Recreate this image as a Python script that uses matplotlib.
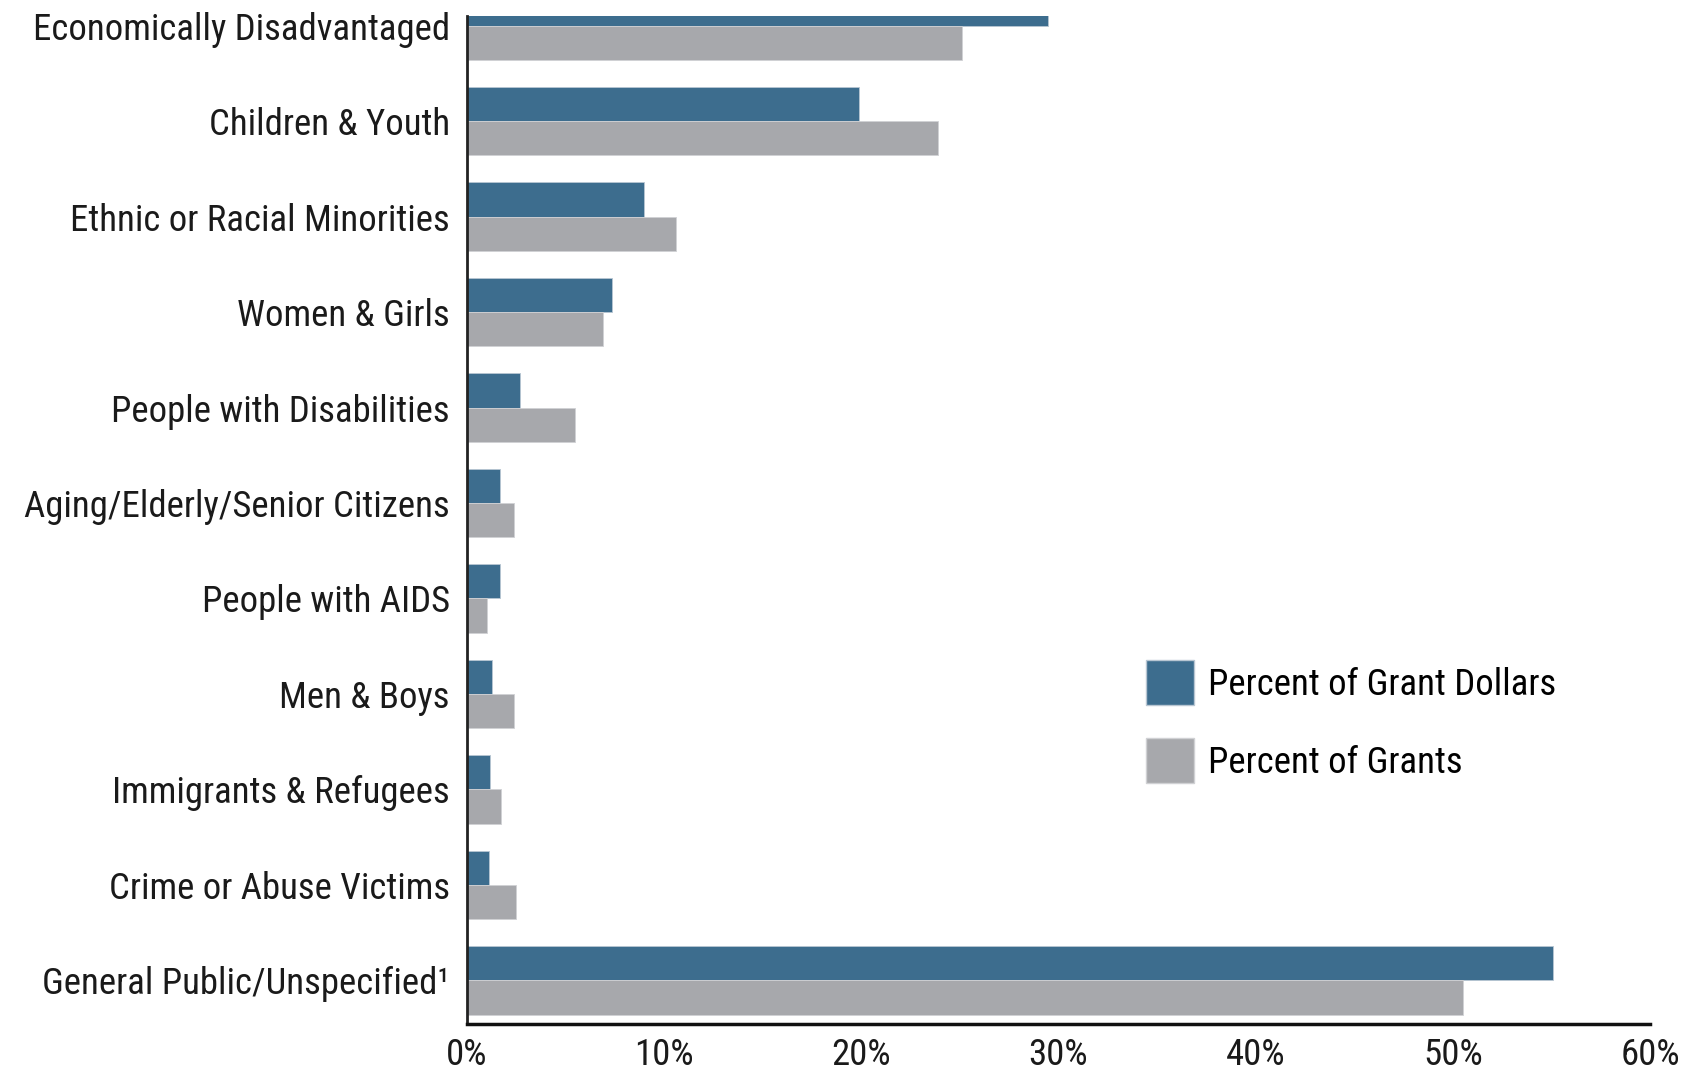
import matplotlib
matplotlib.use("Agg")
import matplotlib.pyplot as plt
from matplotlib.patches import Patch
import numpy as np

plt.rcParams['font.family'] = ['Roboto Condensed', 'IBM Plex Sans Condensed', 'DejaVu Sans']

# Populations served, top to bottom
categories = [
    "Economically Disadvantaged",
    "Children & Youth",
    "Ethnic or Racial Minorities",
    "Women & Girls",
    "People with Disabilities",
    "Aging/Elderly/Senior Citizens",
    "People with AIDS",
    "Men & Boys",
    "Immigrants & Refugees",
    "Crime or Abuse Victims",
    "General Public/Unspecified¹",
]
grant_dollars = [29.5, 19.9, 9.0, 7.4, 2.7, 1.7, 1.7, 1.3, 1.2, 1.15, 55.1]
grants = [25.1, 23.9, 10.6, 6.9, 5.5, 2.4, 1.05, 2.4, 1.75, 2.5, 50.5]
xticks = [0, 10, 20, 30, 40, 50, 60]

blue = "#3d6d8e"
gray = "#a7a8ac"
fs = 26.5

fig = plt.figure(figsize=(16.89, 10.76), dpi=100)
ax = fig.add_axes([0.2762, 0.048, 0.9769 - 0.2762, 0.9851 - 0.048])

n = len(categories)
y = np.arange(n)[::-1]
h = 0.36
ax.barh(y + h / 2, grant_dollars, height=h, color=blue, edgecolor="#b8c6d2", linewidth=0.6)
ax.barh(y - h / 2, grants, height=h, color=gray, edgecolor="#d0d1d4", linewidth=0.6)

ax.set_xlim(0, 60)
ax.set_ylim(-0.46, n - 1 + 0.10)
ax.set_yticks(y)
ax.set_yticklabels(categories, fontsize=fs, color="#1a1a1a")
ax.set_xticks(xticks)
ax.set_xticklabels([f"{t}%" for t in xticks], fontsize=fs, color="#1a1a1a")
ax.tick_params(axis="both", length=0)
ax.tick_params(axis="y", pad=12)
ax.tick_params(axis="x", pad=9)

for s in ["top", "right"]:
    ax.spines[s].set_visible(False)
ax.spines["left"].set_linewidth(2)
ax.spines["left"].set_color("#222222")
ax.spines["bottom"].set_linewidth(2.5)
ax.spines["bottom"].set_color("#111111")

handles = [Patch(facecolor=blue, edgecolor="#b8c6d2", label="Percent of Grant Dollars"),
           Patch(facecolor=gray, edgecolor="#d0d1d4", label="Percent of Grants")]
ax.legend(handles=handles, loc="upper left", bbox_to_anchor=(0.574, 0.361),
          frameon=False, fontsize=fs, handlelength=1.3, handleheight=1.47,
          handletextpad=0.4, labelspacing=0.92, borderpad=0, borderaxespad=0)

fig.savefig("out.png", dpi=100)
